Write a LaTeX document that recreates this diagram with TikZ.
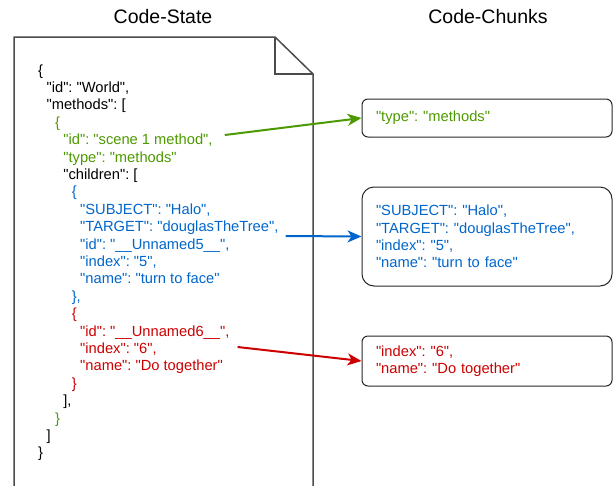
\documentclass[tikz,border=0pt]{standalone}
\usepackage{fontspec}
\setmainfont{Liberation Sans}[Ligatures=TeXOff]
\frenchspacing
\usetikzlibrary{arrows.meta}
\definecolor{codegreen}{HTML}{4D9900}
\definecolor{codeblue}{HTML}{0066CC}
\definecolor{codered}{HTML}{CC0000}

\begin{document}
\begin{tikzpicture}[x=1pt, y=-1pt,
    codeline/.style={anchor=base west, inner sep=0pt, font=\fontsize{14.7}{17.4}\selectfont},
    title/.style={font=\fontsize{19.5}{23}\selectfont},
    chunk/.style={draw=black!85, line width=1pt, minimum width=250pt, text width=222pt, inner xsep=14pt, inner ysep=0pt, align=left, font=\fontsize{14.7}{17.4}\selectfont},
    link/.style={line width=2pt, -{Stealth[length=14pt, width=12pt, inset=4pt]}}]
    \useasboundingbox (0,0) rectangle (615,485);

    % Titles
    \node[title] (state-title) at (163,17) {Code-State};
    \node[title] (chunks-title) at (488,17) {Code-Chunks};

    % Page with folded corner
    \draw[black!70, line width=1.5pt] (14,500) -- (14,37) -- (275,37) -- (313,74) -- (313,500);
    \draw[black!70, line width=1.5pt] (275,37) -- (275,74) -- (313,74);

    % Code-State lines: number/indent/colour/text
    \foreach \i/\lvl/\col/\txt in {
        0/0/black/{\{},
        1/1/black/{"id": "World",},
        2/1/black/{"methods": [},
        3/2/codegreen/{\{},
        4/3/codegreen/{"id": "scene 1 method",},
        5/3/codegreen/{"type": "methods"},
        6/3/black/{"children": [},
        7/4/codeblue/{\{},
        8/5/codeblue/{"SUBJECT": "Halo",},
        9/5/codeblue/{"TARGET": "douglasTheTree",},
        10/5/codeblue/{"id": "\_\_Unnamed5\_\_",},
        11/5/codeblue/{"index": "5",},
        12/5/codeblue/{"name": "turn to face"},
        13/4/codeblue/{\},},
        14/4/codered/{\{},
        15/5/codered/{"id": "\_\_Unnamed6\_\_",},
        16/5/codered/{"index": "6",},
        17/5/codered/{"name": "Do together"},
        18/4/codered/{\}},
        19/3/black/{],},
        20/2/codegreen/{\}},
        21/1/black/{]},
        22/0/black/{\}}}
        \node[codeline, text=\col] (l\i) at ({38+8.4*\lvl},{75+17.4*\i}) {\txt};

    % Code-Chunks
    \node[chunk, rounded corners=6pt, minimum height=38pt, text=codegreen] (chunk1) at (487,118) {"type": "methods"};
    \node[chunk, rounded corners=12pt, minimum height=99pt, text=codeblue] (chunk2) at (487,236.5)
        {"SUBJECT": "Halo",\\"TARGET": "douglasTheTree",\\"index": "5",\\"name": "turn to face"};
    \node[chunk, rounded corners=6pt, minimum height=50pt, text=codered] (chunk3) at (487,361)
        {"index": "6",\\"name": "Do together"};

    % Arrows from the code to the chunks
    \coordinate (from1) at ([shift={(12pt,9.6pt)}]l4.base east);
    \coordinate (from2) at ([shift={(7pt,-4.4pt)}]l9.base east);
    \coordinate (from3) at ([shift={(8pt,-11pt)}]l15.base east);
    \draw[link, codegreen] (from1) -- (chunk1.west);
    \draw[link, codeblue] (from2) -- (chunk2.west);
    \draw[link, codered] (from3) -- (chunk3.west);
\end{tikzpicture}
\end{document}
